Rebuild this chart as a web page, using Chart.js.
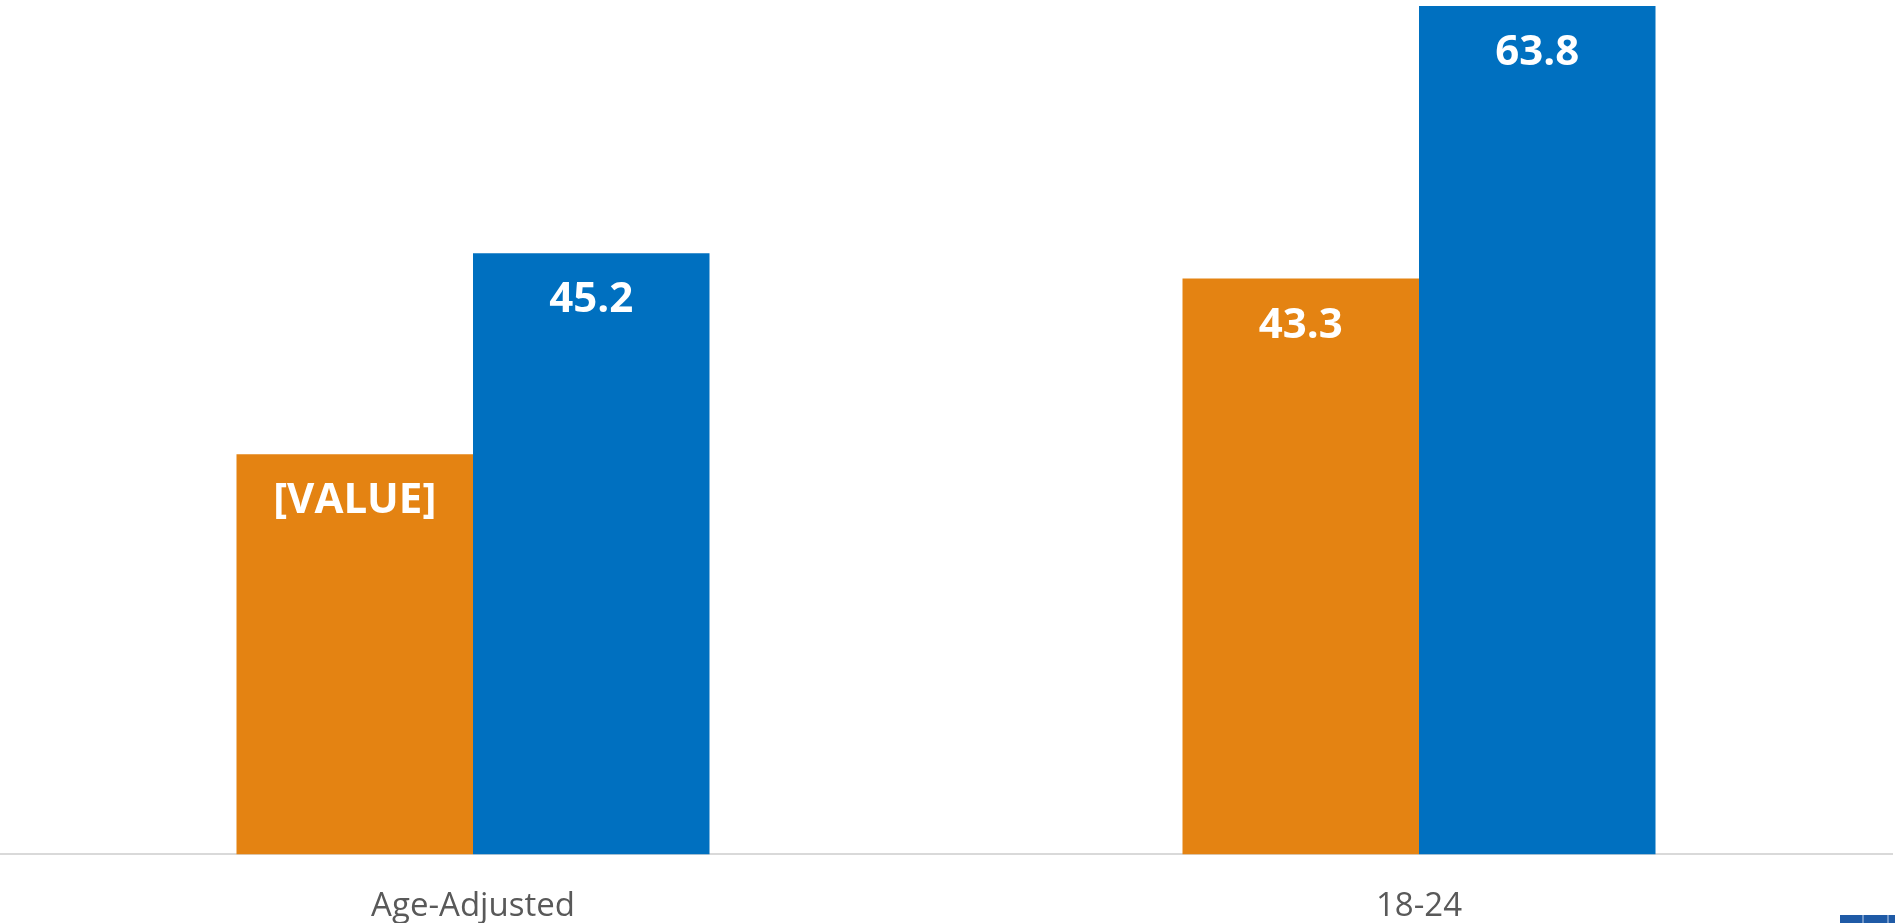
<!DOCTYPE html>
<html>
<head>
<meta charset="utf-8">
<script src="https://cdn.jsdelivr.net/npm/chart.js@4"></script>
<style>
  html, body { margin: 0; padding: 0; background: #fff; overflow: hidden; }
  #wrap { position: relative; width: 1895px; height: 923px; overflow: hidden; }
  #logo {
    position: absolute; left: 1840px; top: 915px; width: 55px; height: 8px;
    background: linear-gradient(to right, #1f5aa6 0 22px, #6f95c8 22px 24px, #1f5aa6 24px 47px, #6f95c8 47px 49px, #1f5aa6 49px);
  }
</style>
</head>
<body>
<div id="wrap">
  <canvas id="chart" width="1895" height="962"></canvas>
  <div id="logo"></div>
</div>
<script>
// data
const categories = ['Age-Adjusted', '18-24'];
const orangeValues = [30.1, 43.3];
const blueValues = [45.2, 63.8];
const orangeLabels = ['[VALUE]', '43.3'];
const blueLabels = ['45.2', '63.8'];

// draw the value text inside the top of each bar
const barLabels = {
    id: 'barLabels',
    afterDatasetsDraw(chart) {
        const ctx = chart.ctx;
        ctx.save();
        ctx.fillStyle = '#ffffff';
        ctx.font = 'bold 42px "Open Sans"';
        ctx.textAlign = 'center';
        ctx.textBaseline = 'middle';
        chart.data.datasets.forEach(function(ds, i) {
            const meta = chart.getDatasetMeta(i);
            meta.data.forEach(function(bar, j) {
                ctx.fillText(ds.valueLabels[j], bar.x, bar.y + 47);
            });
        });
        ctx.restore();
    }
};

const ctx = document.getElementById('chart').getContext('2d');
const chart = new Chart(ctx, {
    type: 'bar',
    data: {
        labels: categories,
        datasets: [{
            data: orangeValues,
            valueLabels: orangeLabels,
            backgroundColor: '#E48312'
        }, {
            data: blueValues,
            valueLabels: blueLabels,
            backgroundColor: '#0070C0'
        }]
    },
    options: {
        responsive: false,
        animation: false,
        layout: { padding: { left: 0, right: 3, top: 0, bottom: 4 } },
        plugins: {
            legend: { display: false },
            tooltip: { enabled: false }
        },
        datasets: {
            bar: { categoryPercentage: 0.5, barPercentage: 1.0 }
        },
        scales: {
            x: {
                grid: { display: false, drawTicks: false },
                border: { display: true, color: '#D9D9D9', width: 2 },
                ticks: {
                    color: '#595959',
                    font: { family: '"Open Sans"', size: 33 },
                    padding: 32
                }
            },
            y: {
                display: false,
                min: 0,
                max: 64.25
            }
        }
    },
    plugins: [barLabels]
});
</script>
</body>
</html>
